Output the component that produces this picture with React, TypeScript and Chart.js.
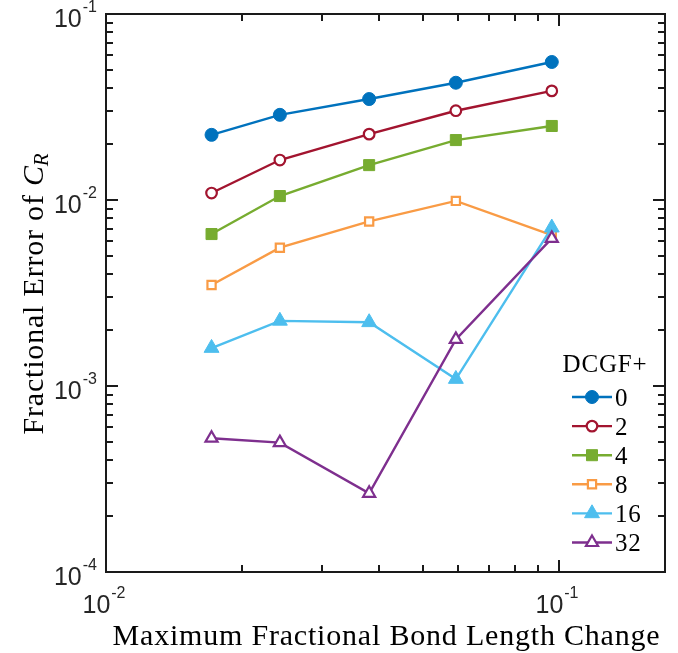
import React, { useEffect, useRef } from 'react';
import { Chart, registerables } from 'chart.js';

Chart.register(...registerables);

// ---------- data ----------
const bondChange = [0.0171, 0.0242, 0.0381, 0.0592, 0.0964];
const seriesLabels = ['0', '2', '4', '8', '16', '32'];
const err0 = [0.0224, 0.0287, 0.0349, 0.0427, 0.0552];
const err2 = [0.0109, 0.0164, 0.0226, 0.0302, 0.0386];
const err4 = [0.00656, 0.0105, 0.0154, 0.021, 0.025];
const err8 = [0.00349, 0.00554, 0.00767, 0.00989, 0.00648];
const err16 = [0.0016, 0.00224, 0.0022, 0.00109, 0.0071];
const err32 = [0.000524, 0.000496, 0.000265, 0.00178, 0.00622];

const xMin = 0.01;
const xMax = 0.1714;
const yMin = 1e-4;
const yMax = 1e-1;

const xTitle = 'Maximum Fractional Bond Length Change';
const yTitleMain = 'Fractional Error of ';
const yTitleVar = 'C';
const yTitleSub = 'R';
const legendTitle = 'DCGF+';

// ---------- styles ----------
const W = 678;
const H = 653;
const AXIS = '#262626';
const SERIF = '"Liberation Serif", "Times New Roman", serif';
const SANS = '"Liberation Sans", Arial, sans-serif';

const seriesValues = [err0, err2, err4, err8, err16, err32];
const seriesStyles = [
  { color: '#0072BD', shape: 'circle', r: 6.5, filled: true },
  { color: '#A2142F', shape: 'circle', r: 5.3, filled: false },
  { color: '#77AC30', shape: 'rect', r: 7.8, filled: true },
  { color: '#F99B45', shape: 'rect', r: 5.8, filled: false },
  { color: '#4DBEEE', shape: 'triangle', r: 8.6, filled: true },
  { color: '#7E2F8E', shape: 'triangle', r: 7, filled: false },
];

function logTicks(min: number, max: number) {
  const out: { v: number; major: boolean; e: number }[] = [];
  for (let e = Math.floor(Math.log10(min)); e <= Math.ceil(Math.log10(max)); e++) {
    for (let k = 1; k <= 9; k++) {
      const v = k * Math.pow(10, e);
      if (v >= min * 0.9999 && v <= max * 1.0001) out.push({ v, major: k === 1, e });
    }
  }
  return out;
}

function drawMarker(ctx: CanvasRenderingContext2D, st: any, x: number, y: number) {
  const r = st.r;
  ctx.beginPath();
  if (st.shape === 'circle') {
    ctx.arc(x, y, r, 0, Math.PI * 2);
  } else if (st.shape === 'rect') {
    const s = r * Math.SQRT1_2;
    ctx.rect(x - s, y - s, 2 * s, 2 * s);
  } else {
    ctx.moveTo(x, y - r);
    ctx.lineTo(x + r * Math.sin((2 * Math.PI) / 3), y - r * Math.cos((2 * Math.PI) / 3));
    ctx.lineTo(x + r * Math.sin((4 * Math.PI) / 3), y - r * Math.cos((4 * Math.PI) / 3));
  }
  ctx.closePath();
  ctx.fillStyle = st.filled ? st.color : '#ffffff';
  ctx.fill();
  ctx.lineWidth = st.filled ? 1 : 2.2;
  ctx.strokeStyle = st.color;
  ctx.stroke();
}

function drawPow(ctx: CanvasRenderingContext2D, e: number, x: number, baseline: number, align: 'right' | 'center') {
  const base = '10';
  const sup = String(e);
  ctx.font = `25px ${SANS}`;
  const wb = ctx.measureText(base).width;
  ctx.font = `16px ${SANS}`;
  const ws = ctx.measureText(sup).width;
  const total = wb + ws + 1;
  const x0 = align === 'right' ? x - total : x - total / 2;
  ctx.fillStyle = AXIS;
  ctx.textAlign = 'left';
  ctx.textBaseline = 'alphabetic';
  ctx.font = `25px ${SANS}`;
  ctx.fillText(base, x0, baseline);
  ctx.font = `16px ${SANS}`;
  ctx.fillText(sup, x0 + wb + 1, baseline - 15);
}

const framePlugin = {
  id: 'framePlugin',
  afterDraw(chart: any) {
    const ctx: CanvasRenderingContext2D = chart.ctx;
    const { left, right, top, bottom } = chart.chartArea;
    const xs = chart.scales.x;
    const ys = chart.scales.y;
    ctx.save();

    // box
    ctx.strokeStyle = '#1a1a1a';
    ctx.lineWidth = 2;
    ctx.strokeRect(left, top, right - left, bottom - top);

    // ticks (inward)
    ctx.beginPath();
    for (const t of logTicks(yMin, yMax)) {
      const py = Math.round(ys.getPixelForValue(t.v));
      const len = t.major ? 12 : 7;
      ctx.moveTo(left, py);
      ctx.lineTo(left + len, py);
      ctx.moveTo(right, py);
      ctx.lineTo(right - len, py);
    }
    for (const t of logTicks(xMin, xMax)) {
      const px = Math.round(xs.getPixelForValue(t.v));
      const len = t.major ? 12 : 7;
      ctx.moveTo(px, bottom);
      ctx.lineTo(px, bottom - len);
      ctx.moveTo(px, top);
      ctx.lineTo(px, top + len);
    }
    ctx.lineWidth = 2;
    ctx.stroke();

    // tick labels
    for (const t of logTicks(yMin, yMax)) {
      if (!t.major) continue;
      const py = ys.getPixelForValue(t.v);
      drawPow(ctx, t.e, left - 9, py + 13, 'right');
    }
    for (const t of logTicks(xMin, xMax)) {
      if (!t.major) continue;
      const px = xs.getPixelForValue(t.v);
      drawPow(ctx, t.e, px - 2, bottom + 41, 'center');
    }

    // x title
    ctx.fillStyle = '#000';
    ctx.font = `30px ${SERIF}`;
    (ctx as any).letterSpacing = '0.8px';
    ctx.textAlign = 'center';
    ctx.textBaseline = 'alphabetic';
    ctx.fillText(xTitle, (left + right) / 2 + 1, bottom + 73);

    // y title (rotated)
    ctx.save();
    ctx.translate(43, (top + bottom) / 2);
    ctx.rotate(-Math.PI / 2);
    ctx.textAlign = 'left';
    ctx.font = `30px ${SERIF}`;
    const w1 = ctx.measureText(yTitleMain).width;
    ctx.font = `italic 30px ${SERIF}`;
    const w2 = ctx.measureText(yTitleVar).width;
    ctx.font = `italic 21px ${SERIF}`;
    const w3 = ctx.measureText(yTitleSub).width;
    let x0 = -(w1 + w2 + w3) / 2;
    ctx.font = `30px ${SERIF}`;
    ctx.fillText(yTitleMain, x0, 0);
    x0 += w1;
    ctx.font = `italic 30px ${SERIF}`;
    ctx.fillText(yTitleVar, x0, 0);
    x0 += w2;
    ctx.font = `italic 21px ${SERIF}`;
    ctx.fillText(yTitleSub, x0 - 1, 5);
    ctx.restore();

    // legend
    (ctx as any).letterSpacing = '0.8px';
    ctx.fillStyle = '#000';
    ctx.font = `25px ${SERIF}`;
    ctx.textAlign = 'center';
    ctx.textBaseline = 'alphabetic';
    ctx.fillText(legendTitle, right - 60, bottom - 200);
    const ds = chart.data.datasets;
    ds.forEach((d: any, i: number) => {
      const st = seriesStyles[i];
      const cy = bottom - 175 + i * 29.1;
      ctx.beginPath();
      ctx.moveTo(right - 93, cy);
      ctx.lineTo(right - 53, cy);
      ctx.strokeStyle = st.color;
      ctx.lineWidth = 2.4;
      ctx.stroke();
      drawMarker(ctx, st, right - 73, cy);
      ctx.fillStyle = '#000';
      ctx.font = `25px ${SERIF}`;
      ctx.textAlign = 'left';
      ctx.fillText(d.label, right - 50, cy + 8.5);
    });
    (ctx as any).letterSpacing = '0px';
    ctx.restore();
  },
};

export default function App() {
  const ref = useRef<HTMLCanvasElement | null>(null);
  useEffect(() => {
    if (!ref.current) return;
    const chart = new Chart(ref.current, {
      type: 'line',
      data: {
        datasets: seriesValues.map((vals, i) => {
          const st = seriesStyles[i];
          return {
            label: seriesLabels[i],
            data: bondChange.map((x, j) => ({ x, y: vals[j] })),
            borderColor: st.color,
            backgroundColor: st.color,
            borderWidth: 2.4,
            pointStyle: st.shape as any,
            pointRadius: st.r,
            pointHoverRadius: st.r,
            pointBackgroundColor: st.filled ? st.color : '#ffffff',
            pointBorderColor: st.color,
            pointBorderWidth: st.filled ? 1 : 2.2,
            tension: 0,
            fill: false,
            order: seriesValues.length - i,
          };
        }),
      },
      options: {
        animation: false,
        responsive: false,
        layout: { padding: { left: 106, top: 14, right: 13, bottom: 81 } },
        scales: {
          x: { type: 'logarithmic', min: xMin, max: xMax, display: false },
          y: { type: 'logarithmic', min: yMin, max: yMax, display: false },
        },
        plugins: { legend: { display: false }, tooltip: { enabled: false } },
      },
      plugins: [framePlugin],
    });
    return () => chart.destroy();
  }, []);
  return (
    <div style={{ position: 'absolute', left: 0, top: 0, width: W, height: H, background: '#fff' }}>
      <canvas ref={ref} width={W} height={H} style={{ display: 'block' }} />
    </div>
  );
}
